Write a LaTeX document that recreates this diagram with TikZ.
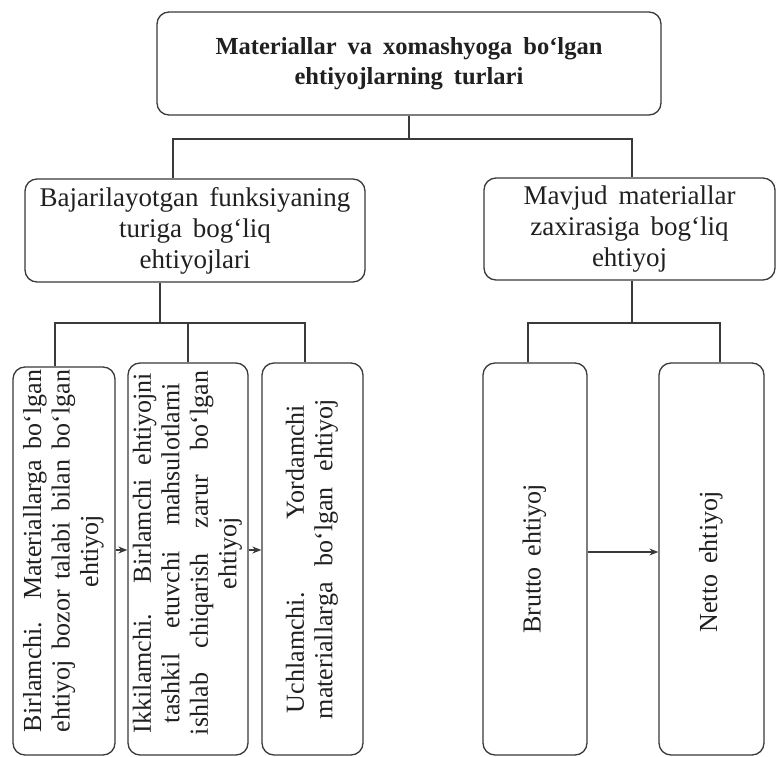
\documentclass[tikz,border=0pt]{standalone}
\usepackage{fontspec}
\setmainfont{Liberation Serif}
\usetikzlibrary{arrows.meta}
\definecolor{ink}{HTML}{202020}
\definecolor{linec}{HTML}{3A3A3A}
\newcommand{\jl}[2]{\makebox[#1][s]{#2}}
\newcommand{\wsp}{\hskip 11pt\relax}
\newcommand{\vtext}[2][0pt]{\rotatebox{90}{\hspace*{#1}\begin{tabular}{@{}c@{}}#2\end{tabular}}}
\tikzset{
  box/.style={draw=linec, line width=1.3pt, rounded corners=12pt, inner sep=0pt, text=ink, align=center},
  topbox/.style={box, font=\bfseries\fontsize{24.5}{30}\selectfont},
  midbox/.style={box, font=\fontsize{27}{31}\selectfont},
  lowbox/.style={box, font=\fontsize{26}{28.5}\selectfont},
  conn/.style={draw=linec, line width=1.2pt},
  arr/.style={draw=linec, line width=1.2pt, -{Stealth[length=9pt,width=7pt]}}
}
\begin{document}
\begin{tikzpicture}[x=1pt,y=-1pt]
\useasboundingbox[fill=white] (0,0) rectangle (777,757);

\node[topbox, minimum width=504pt, minimum height=103pt] (top) at (409,63.5)
  {Materiallar\wsp va\wsp xomashyoga\wsp bo‘lgan\\ ehtiyojlarning\wsp turlari};

\node[midbox, minimum width=340pt, minimum height=103pt] (midL) at (195,230.5)
  {Bajarilayotgan\wsp funksiyaning\\ turiga\wsp bog‘liq\\ ehtiyojlari};
\node[midbox, minimum width=291pt, minimum height=102pt] (midR) at (629.5,229)
  {Mavjud\wsp materiallar\\ zaxirasiga\wsp bog‘liq\\ ehtiyoj};

\node[lowbox, minimum width=102pt, minimum height=388pt] (b1) at (64,561)
  {\vtext[20pt]{\jl{362pt}{Birlamchi. Materiallarga bo‘lgan}\\
          \jl{362pt}{ehtiyoj bozor talabi bilan bo‘lgan}\\
          ehtiyoj}};
\node[lowbox, minimum width=120pt, minimum height=392pt] (b2) at (188,559)
  {\vtext[12pt]{\jl{360pt}{Ikkilamchi. Birlamchi ehtiyojni}\\
          \jl{340pt}{tashkil etuvchi mahsulotlarni}\\
          \jl{364pt}{ishlab chiqarish zarur bo‘lgan}\\
          ehtiyoj}};
\node[lowbox, minimum width=101pt, minimum height=392pt] (b3) at (312.5,559)
  {\vtext{\jl{308pt}{Uchlamchi. Yordamchi}\\
          \jl{320pt}{materiallarga bo‘lgan ehtiyoj}}};
\node[lowbox, minimum width=104pt, minimum height=392pt] (bb) at (535,559)
  {\vtext{Brutto\wsp ehtiyoj}};
\node[lowbox, minimum width=105pt, minimum height=392pt] (bn) at (711.5,559)
  {\vtext[-6pt]{Netto\wsp ehtiyoj}};

% tree connectors
\draw[conn] (top.south) -- (top.south |- 0,139);
\draw[conn] (midL.north -| 173,0) -- (173,139) -- (632,139) -- (midR.north -| 632,0);

\draw[conn] (midL.south -| 160,0) -- (160,323);
\draw[conn] (b1.north -| 55,0) -- (55,323) -- (305,323) -- (b3.north -| 305,0);
\draw[conn] (b2.north) -- (b2.north |- 0,323);

\draw[conn] (midR.south -| 632,0) -- (632,323);
\draw[conn] (bb.north -| 528,0) -- (528,323) -- (720,323) -- (bn.north -| 720,0);

% arrows
\draw[arr] (b1.east |- 0,550) -- (b2.west |- 0,550);
\draw[arr] (b2.east |- 0,550) -- (b3.west |- 0,550);
\draw[arr] (bb.east |- 0,552) -- (bn.west |- 0,552);
\end{tikzpicture}
\end{document}
